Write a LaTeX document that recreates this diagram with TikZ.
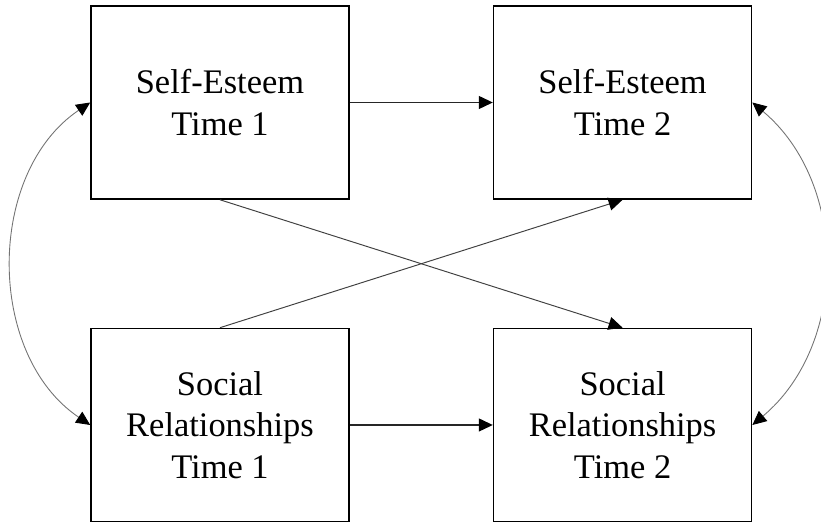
\documentclass[tikz,border=0pt]{standalone}
\usepackage{fontspec}
\setmainfont{Liberation Serif}
\usetikzlibrary{arrows.meta}
\usetikzlibrary{positioning}

\tikzset{
  varbox/.style={draw, line width=0.9pt, minimum width=5.16cm, minimum height=3.86cm,
    inner sep=0pt, align=center, font=\fontsize{19.6}{23.6}\selectfont},
  pathtip/.style={-{Triangle[length=0.28cm, width=0.26cm, color=black]}},
  regarrow/.style={pathtip, line width=0.7pt, black!85},
  crossarrow/.style={pathtip, line width=0.55pt, black!75},
  covarrow/.style={{Triangle[length=0.28cm, width=0.26cm, color=black]}-{Triangle[length=0.28cm, width=0.26cm, color=black]}, line width=0.5pt, black!55}
}

\begin{document}
\begin{tikzpicture}
    \useasboundingbox (0,0) rectangle (16.42,10.46);

    % time 1 on the left, time 2 on the right
    \node[varbox] (seone) at (4.4,8.41) {Self-Esteem\\Time 1};
    \node[varbox, right=2.86cm of seone] (setwo) {Self-Esteem\\Time 2};
    \node[varbox] (srone) at (4.4,1.96) {Social\\Relationships\\Time 1};
    \node[varbox, right=2.86cm of srone] (srtwo) {Social\\Relationships\\Time 2};

    % stability paths
    \draw[regarrow] (seone) -- (setwo);
    \draw[regarrow] (srone) -- (srtwo);

    % cross-lagged paths
    \draw[crossarrow] (seone.south) -- (srtwo.north);
    \draw[crossarrow] (srone.north) -- (setwo.south);

    % covariances
    \draw[covarrow] (seone.west) to[out=214, in=146] (srone.west);
    \draw[covarrow] (setwo.east) to[out=-40, in=40] (srtwo.east);

\end{tikzpicture}
\end{document}
